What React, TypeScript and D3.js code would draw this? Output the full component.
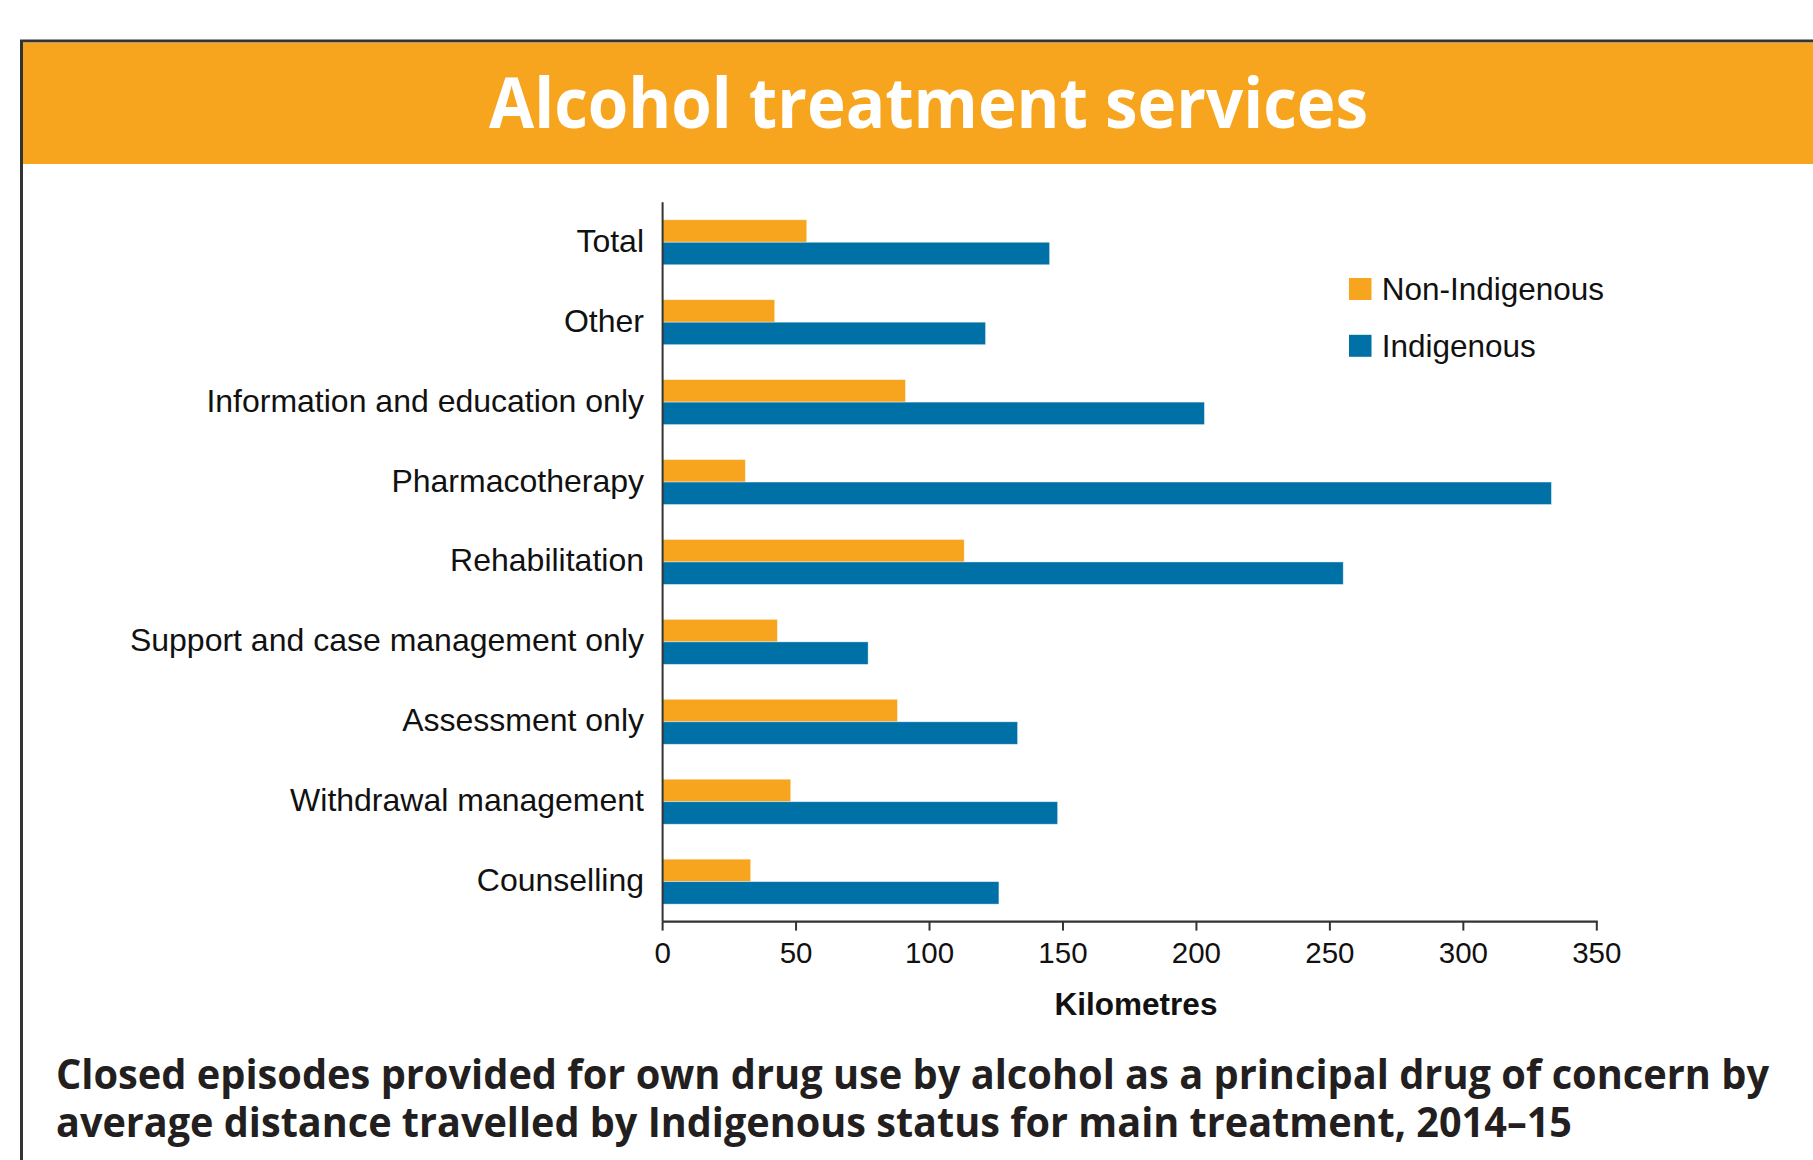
import React from "react";
import * as d3 from "d3";

const categories = [
  "Total",
  "Other",
  "Information and education only",
  "Pharmacotherapy",
  "Rehabilitation",
  "Support and case management only",
  "Assessment only",
  "Withdrawal management",
  "Counselling",
];
const nonIndigenous = [54, 42, 91, 31, 113, 43, 88, 48, 33];
const indigenous = [145, 121, 203, 333, 255, 77, 133, 148, 126];
const xTicks = [0, 50, 100, 150, 200, 250, 300, 350];
const seriesNames = ["Non-Indigenous", "Indigenous"];
const seriesColors = ["#F7A51F", "#0071A7"];

const W = 1813;
const H = 1160;
const plotLeft = 662.6;
const plotRight = 1596.8;
const plotTop = 202.3;
const plotBottom = 921.6;
const barH = 22.5;

export default function App() {
  const x = d3.scaleLinear().domain([0, 350]).range([plotLeft, plotRight]);
  const y = d3.scaleBand<string>().domain(categories).range([plotTop, plotBottom]).padding(0);
  const labelFont = "'Liberation Sans', Arial, Helvetica, sans-serif";
  const titleFont = "'Open Sans', 'Noto Sans', sans-serif";

  return (
    <svg
      width={W}
      height={H}
      style={{ position: "absolute", left: 0, top: 0, display: "block", background: "#fff" }}
    >
      {/* frame */}
      <rect x={21.5} y={41} width={W + 20} height={H + 20} fill="#fff" stroke="#333" strokeWidth={3} />
      <rect x={23} y={42.7} width={W} height={121.3} fill="#F7A51F" />
      <text
        x={928.5}
        y={127.5}
        textAnchor="middle"
        fontFamily={titleFont}
        fontWeight={700}
        fontSize={70}
        fill="#fff"
        textLength={879}
        lengthAdjust="spacingAndGlyphs"
      >
        Alcohol treatment services
      </text>

      {/* bars */}
      {categories.map((c, i) => {
        const cy = (y(c) as number) + y.bandwidth() / 2;
        return (
          <g key={c}>
            <rect
              x={x(0)}
              y={cy - barH}
              width={x(nonIndigenous[i]) - x(0)}
              height={barH}
              fill={seriesColors[0]}
              stroke="#fff"
              strokeOpacity={0.5}
              strokeWidth={0.8}
            />
            <rect
              x={x(0)}
              y={cy}
              width={x(indigenous[i]) - x(0)}
              height={barH}
              fill={seriesColors[1]}
              stroke="#fff"
              strokeOpacity={0.5}
              strokeWidth={0.8}
            />
            <text
              x={644}
              y={cy + 9.5}
              textAnchor="end"
              fontFamily={labelFont}
              fontSize={32}
              fill="#111"
            >
              {c}
            </text>
          </g>
        );
      })}

      {/* axes */}
      <line x1={plotLeft} x2={plotLeft} y1={plotTop} y2={plotBottom} stroke="#333" strokeWidth={2} />
      <line x1={plotLeft} x2={plotRight + 1} y1={plotBottom} y2={plotBottom} stroke="#333" strokeWidth={2.2} />
      {xTicks.map((t) => (
        <g key={t}>
          <line x1={x(t)} x2={x(t)} y1={plotBottom} y2={plotBottom + 9} stroke="#333" strokeWidth={2} />
          <text
            x={x(t)}
            y={963}
            textAnchor="middle"
            fontFamily={labelFont}
            fontSize={29.5}
            fill="#111"
          >
            {t}
          </text>
        </g>
      ))}
      <text
        x={1136}
        y={1015}
        textAnchor="middle"
        fontFamily={labelFont}
        fontWeight={700}
        fontSize={31.5}
        fill="#111"
      >
        Kilometres
      </text>

      {/* legend */}
      {seriesNames.map((s, i) => (
        <g key={s}>
          <rect x={1349} y={278 + i * 56.8} width={22.5} height={22} fill={seriesColors[i]} />
          <text x={1381.7} y={300 + i * 56.5} fontFamily={labelFont} fontSize={31.5} fill="#111">
            {s}
          </text>
        </g>
      ))}

      {/* caption */}
      <text
        x={56}
        y={1089}
        fontFamily={titleFont}
        fontWeight={700}
        fontSize={41}
        fill="#231f20"
        textLength={1713}
        lengthAdjust="spacingAndGlyphs"
      >
        Closed episodes provided for own drug use by alcohol as a principal drug of concern by
      </text>
      <text
        x={56}
        y={1137}
        fontFamily={titleFont}
        fontWeight={700}
        fontSize={41}
        fill="#231f20"
        textLength={1516}
        lengthAdjust="spacingAndGlyphs"
      >
        average distance travelled by Indigenous status for main treatment, 2014–15
      </text>
    </svg>
  );
}
